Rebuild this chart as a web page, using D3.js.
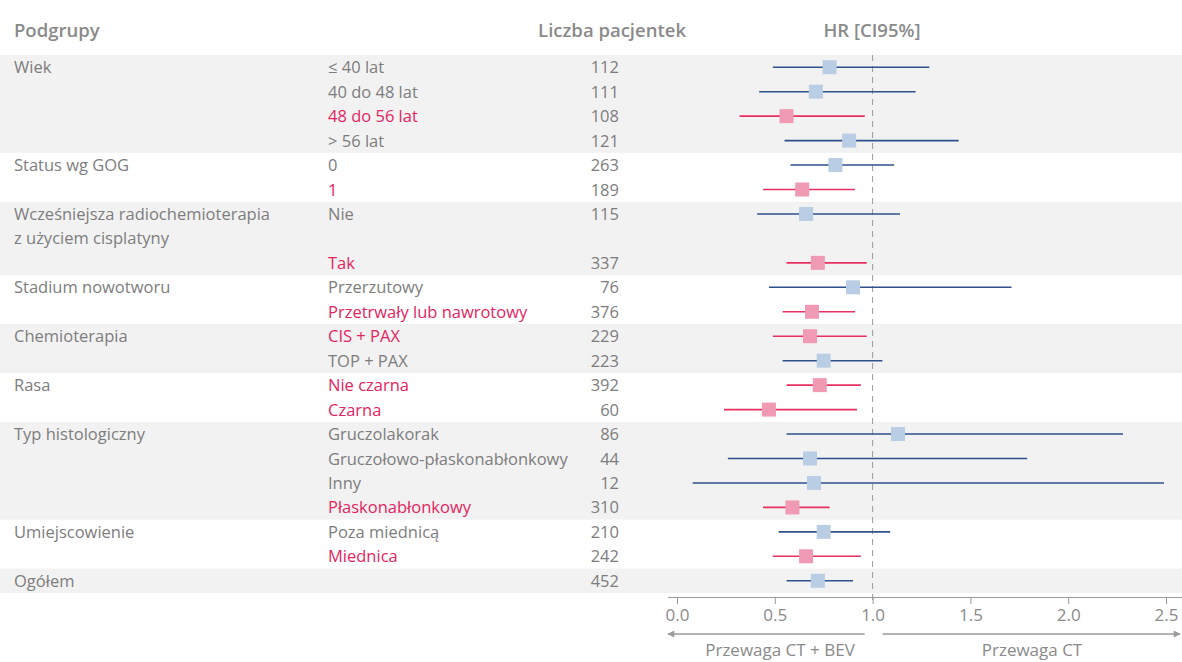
<!DOCTYPE html>
<html>
<head>
<meta charset="utf-8">
<script src="https://cdn.jsdelivr.net/npm/d3@7"></script>
<style>
  html, body { margin: 0; padding: 0; background: #fff; }
  svg { display: block; font-family: "Open Sans", sans-serif; }
</style>
</head>
<body>
<script>
// grupy (etykieta może mieć dwie linie)
const groupNames = ['Wiek', 'Status wg GOG', 'Wcześniejsza radiochemioterapia\nz użyciem cisplatyny',
    'Stadium nowotworu', 'Chemioterapia', 'Rasa', 'Typ histologiczny', 'Umiejscowienie', 'Ogółem'];
// numer grupy dla każdego wiersza
const groupOf = [0, 0, 0, 0, 1, 1, 2, 2, 2, 3, 3, 4, 4, 5, 5, 6, 6, 6, 6, 7, 7, 8];
const subgroups = ['≤ 40 lat', '40 do 48 lat', '48 do 56 lat', '> 56 lat', '0', '1', 'Nie', '', 'Tak',
    'Przerzutowy', 'Przetrwały lub nawrotowy', 'CIS + PAX', 'TOP + PAX', 'Nie czarna', 'Czarna',
    'Gruczolakorak', 'Gruczołowo-płaskonabłonkowy', 'Inny', 'Płaskonabłonkowy', 'Poza miednicą', 'Miednica', ''];
const counts = [112, 111, 108, 121, 263, 189, 115, null, 337, 76, 376, 229, 223, 392, 60, 86, 44, 12, 310, 210, 242, 452];
const hr = [0.78, 0.71, 0.56, 0.88, 0.81, 0.64, 0.66, null, 0.72, 0.90, 0.69, 0.68, 0.75, 0.73, 0.47, 1.13, 0.68, 0.70, 0.59, 0.75, 0.66, 0.72];
const lo = [0.49, 0.42, 0.32, 0.55, 0.58, 0.44, 0.41, null, 0.56, 0.47, 0.54, 0.49, 0.54, 0.56, 0.24, 0.56, 0.26, 0.08, 0.44, 0.52, 0.49, 0.56];
const hi = [1.29, 1.22, 0.96, 1.44, 1.11, 0.91, 1.14, null, 0.97, 1.71, 0.91, 0.97, 1.05, 0.94, 0.92, 2.28, 1.79, 2.49, 0.78, 1.09, 0.94, 0.90];
// wyróżnione (czerwone) wiersze
const highlight = [0, 0, 1, 0, 0, 1, 0, 0, 1, 0, 1, 1, 0, 1, 1, 0, 0, 0, 1, 0, 1, 0];
const ticks = [0, 0.5, 1, 1.5, 2, 2.5];

const width = 1182, height = 662;
const grey = '#7d7d7d', red = '#e5245f';
const blueLine = '#2f4f8c', blueBox = '#b9cde4';
const redLine = '#e6305f', redBox = '#f09ab4';
const fs = '16.5px';

const svg = d3.select('body').append('svg')
    .attr('width', width)
    .attr('height', height);

const y = d3.scaleBand()
    .domain(d3.range(subgroups.length))
    .range([55, 593]);

const x = d3.scaleLinear()
    .domain([0, 2.5])
    .range([677, 1166]);

// pasy tła dla grup
const gBands = svg.append('g');
groupNames.forEach((name, gi) => {
    const rows = groupOf.map((g, i) => g === gi ? i : -1).filter(i => i >= 0);
    if (gi % 2 === 0) {
        gBands.append('rect')
            .attr('x', 0)
            .attr('y', y(rows[0]))
            .attr('width', width)
            .attr('height', y(rows[rows.length - 1]) + y.bandwidth() - y(rows[0]))
            .attr('fill', '#f2f2f2');
    }
    const lines = name.split('\n');
    gBands.append('text')
        .attr('x', 14)
        .attr('y', y(rows[0]) + y.bandwidth() / 2 + 6)
        .attr('fill', grey)
        .style('font-size', fs)
        .selectAll('tspan')
        .data(lines)
        .enter().append('tspan')
        .attr('x', 14)
        .attr('dy', (d, i) => i ? y.step() : 0)
        .text(d => d);
});

// nagłówki
const head = svg.append('g')
    .attr('fill', '#8a8a8a')
    .style('font-size', '18.5px')
    .style('font-weight', 600);
head.append('text').attr('x', 14).attr('y', 37).text('Podgrupy');
head.append('text').attr('x', 686).attr('y', 37).attr('text-anchor', 'end').text('Liczba pacjentek');
head.append('text').attr('x', 872).attr('y', 37).attr('text-anchor', 'middle').text('HR [CI95%]');

// podgrupy i liczby
const rowsIdx = d3.range(subgroups.length);
svg.append('g')
    .selectAll('text')
    .data(rowsIdx)
    .enter().append('text')
    .attr('x', 328)
    .attr('y', i => y(i) + y.bandwidth() / 2 + 6)
    .attr('fill', i => highlight[i] ? red : grey)
    .style('font-size', fs)
    .text(i => subgroups[i]);

svg.append('g')
    .selectAll('text')
    .data(rowsIdx.filter(i => counts[i] != null))
    .enter().append('text')
    .attr('x', 619)
    .attr('y', i => y(i) + y.bandwidth() / 2 + 6)
    .attr('text-anchor', 'end')
    .attr('fill', grey)
    .style('font-size', fs)
    .text(i => counts[i]);

// linia odniesienia HR = 1
svg.append('line')
    .attr('x1', x(1)).attr('x2', x(1))
    .attr('y1', 55).attr('y2', 603)
    .attr('stroke', '#9a9a9a')
    .attr('stroke-width', 1)
    .attr('stroke-dasharray', '6,5');

// przedziały ufności i kwadraty
const pts = svg.append('g')
    .selectAll('g')
    .data(rowsIdx.filter(i => hr[i] != null))
    .enter().append('g')
    .attr('transform', i => `translate(0,${y(i) + y.bandwidth() / 2})`);

pts.append('line')
    .attr('x1', i => x(lo[i]))
    .attr('x2', i => x(hi[i]))
    .attr('stroke', i => highlight[i] ? redLine : blueLine)
    .attr('stroke-width', 1.6);

pts.append('rect')
    .attr('x', i => x(hr[i]) - 7)
    .attr('y', -7)
    .attr('width', 14)
    .attr('height', 14)
    .attr('fill', i => highlight[i] ? redBox : blueBox);

// oś
const axis = svg.append('g')
    .attr('transform', 'translate(0,597)')
    .call(d3.axisBottom(x).tickValues(ticks).tickFormat(d3.format('.1f')).tickSize(7).tickPadding(5));
axis.select('.domain').attr('d', `M668,0.5H${width}`).attr('stroke', '#9a9a9a');
axis.selectAll('.tick line').attr('stroke', '#9a9a9a');
axis.selectAll('.tick text')
    .attr('fill', '#8a8a8a')
    .style('font-size', '17px')
    .style('font-family', '"Open Sans", sans-serif');

// strzałki
const defs = svg.append('defs');
defs.append('marker')
    .attr('id', 'arr')
    .attr('viewBox', '0 0 10 10')
    .attr('refX', 9).attr('refY', 5)
    .attr('markerWidth', 10).attr('markerHeight', 7)
    .attr('markerUnits', 'userSpaceOnUse')
    .attr('orient', 'auto')
    .append('path')
    .attr('d', 'M0,0L10,5L0,10Z')
    .attr('fill', '#9a9a9a');

svg.append('line')
    .attr('x1', x(1) - 8).attr('x2', 668)
    .attr('y1', 634).attr('y2', 634)
    .attr('stroke', '#9a9a9a').attr('stroke-width', 1.5)
    .attr('marker-end', 'url(#arr)');
svg.append('line')
    .attr('x1', x(1) + 10).attr('x2', 1180)
    .attr('y1', 634).attr('y2', 634)
    .attr('stroke', '#9a9a9a').attr('stroke-width', 1.5)
    .attr('marker-end', 'url(#arr)');

svg.append('text')
    .attr('x', 780).attr('y', 656)
    .attr('text-anchor', 'middle')
    .attr('fill', '#8a8a8a')
    .style('font-size', '17px')
    .text('Przewaga CT + BEV');
svg.append('text')
    .attr('x', 1032).attr('y', 656)
    .attr('text-anchor', 'middle')
    .attr('fill', '#8a8a8a')
    .style('font-size', '17px')
    .text('Przewaga CT');
</script>
</body>
</html>
